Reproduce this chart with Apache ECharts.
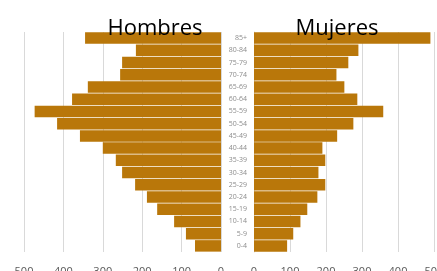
<!DOCTYPE html>
<html><head><meta charset="utf-8">
<script src="https://cdn.jsdelivr.net/npm/echarts@6/dist/echarts.min.js"></script>
<style>html,body{margin:0;padding:0;background:#fff}#c{width:437px;height:271px}</style>
</head><body><div id="c"></div>
<script>
const ageGroups = ['0-4','5-9','10-14','15-19','20-24','25-29','30-34','35-39','40-44','45-49','50-54','55-59','60-64','65-69','70-74','75-79','80-84','85+'];
const hombres = [66, 89, 119, 162, 188, 218, 251, 267, 300, 358, 416, 473, 378, 338, 256, 251, 216, 345];
const mujeres = [92, 109, 129, 148, 176, 198, 179, 198, 190, 231, 276, 359, 287, 251, 229, 262, 290, 490];
const xTicks = [0, 100, 200, 300, 400, 500];

const chart = echarts.init(document.getElementById('c'));
const barColor = '#B9770A';
const gridTop = 32, gridBottom = 19;
const xAxisCommon = {
  type: 'value', min: xTicks[0], max: xTicks[xTicks.length-1], interval: 100,
  axisLine: {show: false}, axisTick: {show: false},
  splitLine: {lineStyle: {color: '#d9d9d9', width: 1}},
  axisLabel: {color: '#595959', fontSize: 11, fontFamily: 'Open Sans', margin: 14}
};
chart.setOption({
  animation: false,
  title: [
    {text: 'Hombres', left: 150, top: 13, textAlign: 'center', textStyle: {fontSize: 22, fontWeight: 'normal', color: '#000', fontFamily: 'Open Sans'}},
    {text: 'Mujeres', left: 332, top: 13, textAlign: 'center', textStyle: {fontSize: 22, fontWeight: 'normal', color: '#000', fontFamily: 'Open Sans'}}
  ],
  grid: [
    {left: 24, width: 197, top: gridTop, bottom: gridBottom, containLabel: false, outerBoundsMode: 'none'},
    {left: 254, width: 180, top: gridTop, bottom: gridBottom, containLabel: false, outerBoundsMode: 'none'}
  ],
  xAxis: [
    Object.assign({}, xAxisCommon, {gridIndex: 0, inverse: true}),
    Object.assign({}, xAxisCommon, {gridIndex: 1})
  ],
  yAxis: [
    {type: 'category', gridIndex: 0, data: ageGroups, axisLine: {show: false}, axisTick: {show: false}, axisLabel: {show: false}},
    {type: 'category', gridIndex: 1, data: ageGroups, axisLine: {show: true, lineStyle: {color: '#d9d9d9'}}, axisTick: {show: false},
     axisLabel: {color: '#8c8c8c', fontSize: 7, fontFamily: 'Open Sans', margin: 7}}
  ],
  series: [
    {type: 'bar', xAxisIndex: 0, yAxisIndex: 0, data: hombres, barCategoryGap: '6%', itemStyle: {color: barColor}},
    {type: 'bar', xAxisIndex: 1, yAxisIndex: 1, data: mujeres, barCategoryGap: '6%', itemStyle: {color: barColor}}
  ]
});
</script></body></html>
